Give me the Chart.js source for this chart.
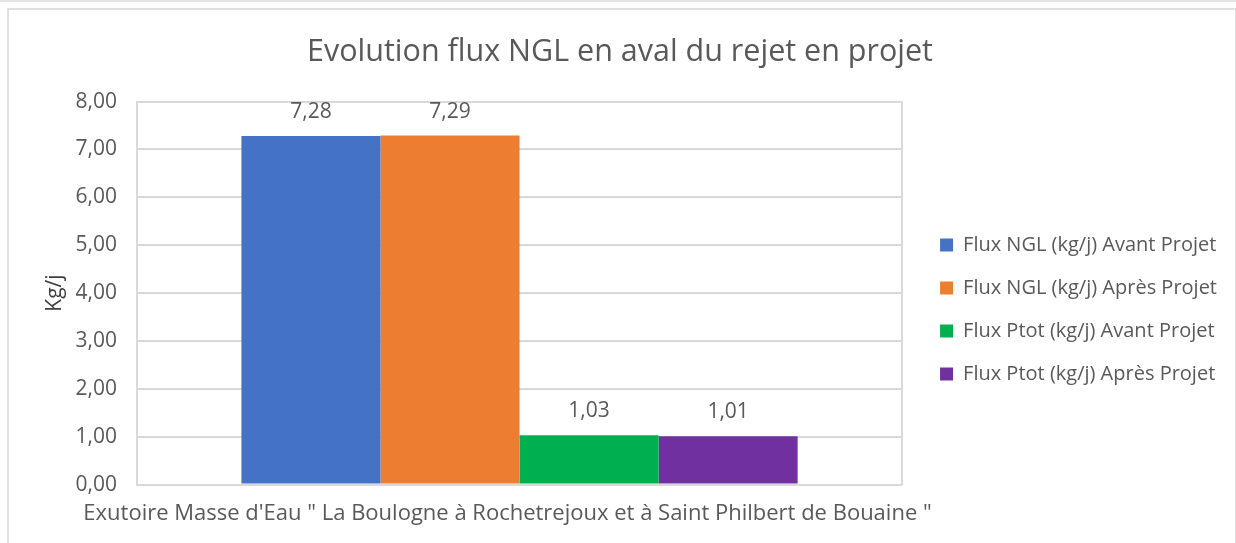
<!DOCTYPE html>
<html>
<head>
<meta charset="utf-8">
<script src="https://cdn.jsdelivr.net/npm/chart.js@4.4.1/dist/chart.umd.min.js"></script>
<style>
    body { margin: 0; background: #fff; }
    #wrap { position: relative; width: 1236px; height: 543px; overflow: hidden; }
    #topLine { position: absolute; left: 0; top: 0; width: 1236px; height: 1px; border-top: 2px solid #e3e3e3; }
    #frame { position: absolute; left: 7px; top: 8px; width: 1226px; height: 560px; border: 2px solid #e0e0e0; pointer-events: none; }
    canvas { position: absolute; left: 0; top: 0; }
</style>
</head>
<body>
<div id="wrap">
    <canvas id="myCanvas" width="1236" height="543"></canvas>
    <div id="topLine"></div>
    <div id="frame"></div>
</div>
<script>
const chartTitle = 'Evolution flux NGL en aval du rejet en projet';
const categories = ['Exutoire Masse d\'Eau " La Boulogne à Rochetrejoux et à Saint Philbert de Bouaine "'];
const seriesNames = [
    'Flux NGL (kg/j) Avant Projet',
    'Flux NGL (kg/j) Après Projet',
    'Flux Ptot (kg/j) Avant Projet',
    'Flux Ptot (kg/j) Après Projet'
];
const fluxNglAvant = [7.28];
const fluxNglApres = [7.29];
const fluxPtotAvant = [1.03];
const fluxPtotApres = [1.01];
const yTicks = [0, 1, 2, 3, 4, 5, 6, 7, 8];
const yAxisTitle = 'Kg/j';

const seriesColors = ['#4472C4', '#ED7D31', '#00B050', '#7030A0'];
const textColor = '#595959';
const font = '"Open Sans", "Segoe UI", sans-serif';

function frNumber(v) {
    return v.toFixed(2).replace('.', ',');
}

// draws the value above each bar, like the Excel data labels
const valueLabels = {
    id: 'valueLabels',
    afterDatasetsDraw(chart) {
        const ctx = chart.ctx;
        ctx.save();
        ctx.font = '21px ' + font;
        ctx.fillStyle = textColor;
        ctx.textAlign = 'center';
        ctx.textBaseline = 'middle';
        chart.data.datasets.forEach((ds, i) => {
            chart.getDatasetMeta(i).data.forEach((bar, j) => {
                ctx.fillText(frNumber(ds.data[j]), bar.x, bar.y - 24);
            });
        });
        ctx.restore();
    }
};

const allSeries = [fluxNglAvant, fluxNglApres, fluxPtotAvant, fluxPtotApres];

const myCanvas = document.getElementById('myCanvas').getContext('2d');
window.myChart = new Chart(myCanvas, {
    type: 'bar',
    data: {
        labels: categories,
        datasets: allSeries.map((vals, i) => ({
            label: seriesNames[i],
            data: vals,
            backgroundColor: seriesColors[i],
            borderWidth: 0,
            categoryPercentage: 0.727,
            barPercentage: 1
        }))
    },
    options: {
        responsive: false,
        animation: false,
        layout: { padding: { left: 13, right: 9, top: 10, bottom: 0 } },
        plugins: {
            title: {
                display: true,
                text: chartTitle,
                color: textColor,
                font: { family: font, size: 30.5, weight: 'normal' },
                padding: { top: 24, bottom: 31 }
            },
            legend: {
                position: 'right',
                align: 'start',
                maxWidth: 400,
                title: { display: true, text: ' ', font: { size: 10 }, padding: { top: 190, bottom: 0 } },
                labels: {
                    color: textColor,
                    font: { family: font, size: 20 },
                    boxWidth: 13,
                    boxHeight: 13,
                    padding: 23
                }
            },
            tooltip: { enabled: false }
        },
        scales: {
            x: {
                grid: { color: '#d9d9d9', lineWidth: 2, drawTicks: false, offset: true },
                border: { display: false },
                ticks: { color: textColor, font: { family: font, size: 22 }, padding: 16, maxRotation: 0, labelOffset: -12 }
            },
            y: {
                min: 0,
                max: 8,
                afterBuildTicks: s => { s.ticks = yTicks.map(v => ({ value: v })); },
                afterFit: s => { s.width = 124; },
                grid: { color: '#d9d9d9', lineWidth: 2, drawTicks: false },
                border: { color: '#d9d9d9', width: 2 },
                ticks: { color: textColor, font: { family: font, size: 21 }, padding: 20, callback: v => frNumber(v) },
                title: { display: true, text: yAxisTitle, color: '#404040', font: { family: font, size: 21 }, padding: { top: 29, bottom: 0 } }
            },
            spacer: {
                position: 'right',
                display: true,
                grid: { display: false },
                border: { display: false },
                ticks: { display: false },
                afterFit: s => { s.width = 15; }
            }
        }
    },
    plugins: [valueLabels]
});
</script>
</body>
</html>
